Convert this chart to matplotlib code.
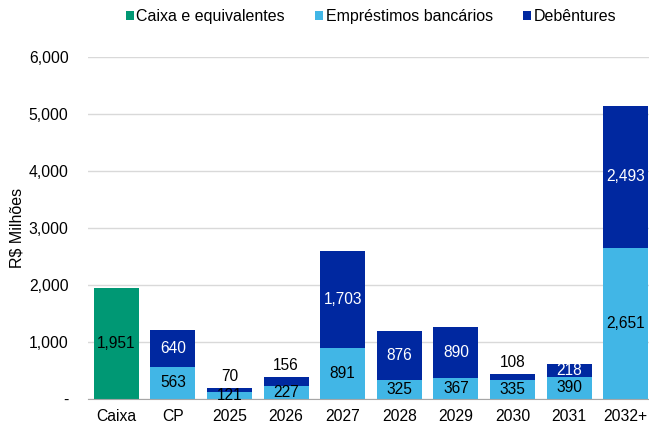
import matplotlib.pyplot as plt
import numpy as np
from matplotlib.ticker import FuncFormatter

plt.rcParams["font.family"] = ["Liberation Sans", "DejaVu Sans"]

categories = ['Caixa', 'CP', '2025', '2026', '2027', '2028', '2029', '2030', '2031', '2032+']
caixa = [1951, 0, 0, 0, 0, 0, 0, 0, 0, 0]
emprestimos = [0, 563, 121, 227, 891, 325, 367, 335, 390, 2651]
debentures = [0, 640, 70, 156, 1703, 876, 890, 108, 218, 2493]

c_caixa = '#009874'
c_emp = '#41B6E6'
c_deb = '#0028A0'

fig = plt.figure(figsize=(6.49, 4.25), dpi=100)
ax = fig.add_axes([0.1356, 0.0612, 0.8721, 0.805])

x = np.arange(len(categories))
w = 0.795
ax.bar(x, caixa, w, color=c_caixa, label='Caixa e equivalentes', zorder=3)
ax.bar(x, emprestimos, w, color=c_emp, label='Empréstimos bancários', zorder=3)
ax.bar(x, debentures, w, bottom=emprestimos, color=c_deb, label='Debêntures', zorder=3)

fs = 11.2
# labels
ax.text(x[0], caixa[0] / 2, f'{caixa[0]:,}', ha='center', va='center', fontsize=fs, color='black', zorder=5)
for i in range(1, len(categories)):
    e, d = emprestimos[i], debentures[i]
    ax.text(x[i], e / 2, f'{e:,}', ha='center', va='center', fontsize=fs, color='black', zorder=5)
    if d < 200:
        ax.text(x[i], e + d + 70, f'{d:,}', ha='center', va='bottom', fontsize=fs, color='black', zorder=5)
    else:
        ax.text(x[i], e + d / 2, f'{d:,}', ha='center', va='center', fontsize=fs, color='white', zorder=5)

ax.set_xlim(-0.5, len(categories) - 0.5)
ax.set_ylim(0, 6000)
ax.set_yticks(np.arange(0, 6001, 1000))
ax.yaxis.set_major_formatter(FuncFormatter(lambda v, p: '-' if v == 0 else f'{int(v):,}'))
ax.set_xticks(x)
ax.set_xticklabels(categories)
ax.tick_params(axis='both', length=0, labelsize=11.3, colors='black')
ax.tick_params(axis='x', pad=7)
ax.tick_params(axis='y', pad=14)
ax.grid(axis='y', color='#d9d9d9', linewidth=1, zorder=0)
for s in ['top', 'right', 'left']:
    ax.spines[s].set_visible(False)
ax.spines['bottom'].set_color('#a6a6a6')
ax.spines['bottom'].set_zorder(4)
ax.set_ylabel('R$ Milhões', fontsize=11.5, labelpad=3)

ax.legend(loc='center', bbox_to_anchor=(0.5, 1.117), ncol=3, frameon=False,
          fontsize=11.5, handlelength=0.5, handleheight=0.5, handletextpad=0.15, columnspacing=1.9)

plt.savefig('out.png', dpi=100)
